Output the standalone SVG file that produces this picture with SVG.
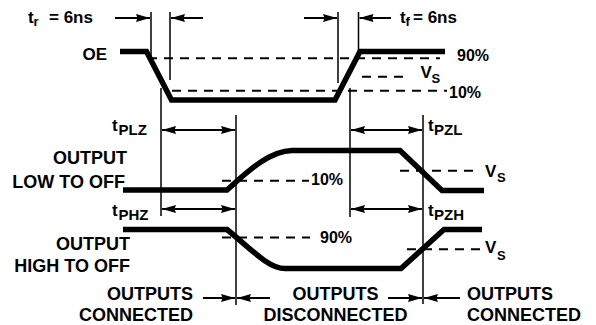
<svg xmlns="http://www.w3.org/2000/svg" width="596" height="325" viewBox="0 0 596 325">
<style>
text{font-family:"Liberation Sans",Arial,Helvetica,sans-serif;font-weight:bold;fill:#000}
.lbl{font-size:18px}
.sm{font-size:17px}
.pct{font-size:16px}
.sub{font-size:15px}
.vs{font-size:13px}
.wave{fill:none;stroke:#000;stroke-width:5.5;stroke-linejoin:miter}
.thin{stroke:#000;stroke-width:1.5;fill:none}
.dash{stroke:#000;stroke-width:2;stroke-dasharray:9 7;fill:none}
.dim{stroke:#000;stroke-width:2;fill:none}
</style>
<defs>
<marker id="ah" markerWidth="14" markerHeight="10" refX="14" refY="5" orient="auto-start-reverse" markerUnits="userSpaceOnUse">
<path d="M0,1 L14,5 L0,9 L1.5,5 z" fill="#000"/>
</marker>
</defs>
<rect width="596" height="325" fill="#fff"/>

<g id="oe">
<text class="sm" x="107" y="60" text-anchor="end">OE</text>
<path class="wave" d="M120,51.5 H146.5 L171.5,100 H335 L360,51.5 H445"/>
<line class="dash" x1="148" y1="58.3" x2="440" y2="58.3"/>
<line class="dash" x1="172" y1="90.7" x2="447" y2="90.7"/>
<line class="dash" x1="362" y1="76.7" x2="410" y2="76.7"/>
<text class="pct" x="457" y="60.5">90%</text>
<text class="pct" x="449" y="98">10%</text>
<text class="sm" x="420.5" y="78">V</text><text class="vs" x="431.5" y="83">S</text>
</g>

<g id="output-low-to-off">
<text class="lbl" x="127" y="164" text-anchor="end">OUTPUT</text>
<text class="lbl" x="125" y="187.5" text-anchor="end">LOW TO OFF</text>
<path class="wave" d="M123,190 H227 C245,174 268,151 292,150.5 H400 L442,190.5 H484"/>
<line class="dash" x1="222" y1="180.7" x2="309" y2="180.7"/>
<text class="pct" x="311" y="185">10%</text>
<line class="dash" x1="400" y1="170.7" x2="480" y2="170.7"/>
<text class="sm" x="485" y="177">V</text><text class="vs" x="497" y="182">S</text>
</g>

<g id="output-high-to-off">
<text class="lbl" x="130" y="250" text-anchor="end">OUTPUT</text>
<text class="lbl" x="130" y="272" text-anchor="end">HIGH TO OFF</text>
<path class="wave" d="M123,229.5 H227 C250,248 268,268.5 285,268.5 H401 L444,229.5 H482"/>
<line class="dash" x1="222" y1="237.5" x2="310" y2="237.5"/>
<text class="pct" x="320" y="243">90%</text>
<line class="dash" x1="407" y1="249.3" x2="480" y2="249.3"/>
<text class="sm" x="485" y="253">V</text><text class="vs" x="497" y="260">S</text>
</g>

<g id="timing-labels">
<text class="sm" x="28" y="23">t</text><text class="vs" x="33.5" y="26">r</text><text class="sm" x="49" y="23">= 6ns</text>
<text class="sm" x="400" y="23">t</text><text class="vs" x="405.5" y="26">f</text><text class="sm" x="413" y="23">= 6ns</text>
<text class="sm" x="112" y="131">t</text><text class="sub" x="118.5" y="135">PLZ</text>
<text class="sm" x="112" y="216">t</text><text class="sub" x="118.5" y="220">PHZ</text>
<text class="sm" x="428" y="131">t</text><text class="sub" x="434" y="135">PZL</text>
<text class="sm" x="428" y="216">t</text><text class="sub" x="434" y="220">PZH</text>
</g>

<g id="region-labels">
<text class="lbl" x="193" y="300" text-anchor="end">OUTPUTS</text>
<text class="lbl" x="193" y="321" text-anchor="end">CONNECTED</text>
<text class="lbl" x="335.5" y="300" text-anchor="middle">OUTPUTS</text>
<text class="lbl" x="335.5" y="321" text-anchor="middle">DISCONNECTED</text>
<text class="lbl" x="467" y="300">OUTPUTS</text>
<text class="lbl" x="467" y="321">CONNECTED</text>
</g>

<g id="connectors">
<line class="thin" x1="151" y1="12" x2="151" y2="59"/>
<line class="thin" x1="170" y1="12" x2="170" y2="80"/>
<line class="thin" x1="338" y1="12" x2="338" y2="83"/>
<line class="thin" x1="358.5" y1="12" x2="358.5" y2="52"/>
<line class="thin" x1="161" y1="88" x2="161" y2="216"/>
<line class="thin" x1="236" y1="115" x2="236" y2="305"/>
<line class="thin" x1="350" y1="88" x2="350" y2="217"/>
<line class="thin" x1="423" y1="115" x2="423" y2="304"/>
<line class="dim" x1="115" y1="18" x2="150" y2="18" marker-end="url(#ah)"/>
<line class="dim" x1="203" y1="18" x2="171" y2="18" marker-end="url(#ah)"/>
<line class="dim" x1="304" y1="18" x2="337" y2="18" marker-end="url(#ah)"/>
<line class="dim" x1="391" y1="18" x2="359.5" y2="18" marker-end="url(#ah)"/>
<line class="dim" x1="162" y1="130" x2="235" y2="130" marker-start="url(#ah)" marker-end="url(#ah)"/>
<line class="dim" x1="162" y1="209" x2="235" y2="209" marker-start="url(#ah)" marker-end="url(#ah)"/>
<line class="dim" x1="351" y1="130" x2="422" y2="130" marker-start="url(#ah)" marker-end="url(#ah)"/>
<line class="dim" x1="351" y1="209" x2="422" y2="209" marker-start="url(#ah)" marker-end="url(#ah)"/>
<line class="dim" x1="203" y1="298" x2="235" y2="298" marker-end="url(#ah)"/>
<line class="dim" x1="270" y1="298" x2="237" y2="298" marker-end="url(#ah)"/>
<line class="dim" x1="388" y1="298" x2="422" y2="298" marker-end="url(#ah)"/>
<line class="dim" x1="460" y1="298" x2="424" y2="298" marker-end="url(#ah)"/>
</g>
</svg>
